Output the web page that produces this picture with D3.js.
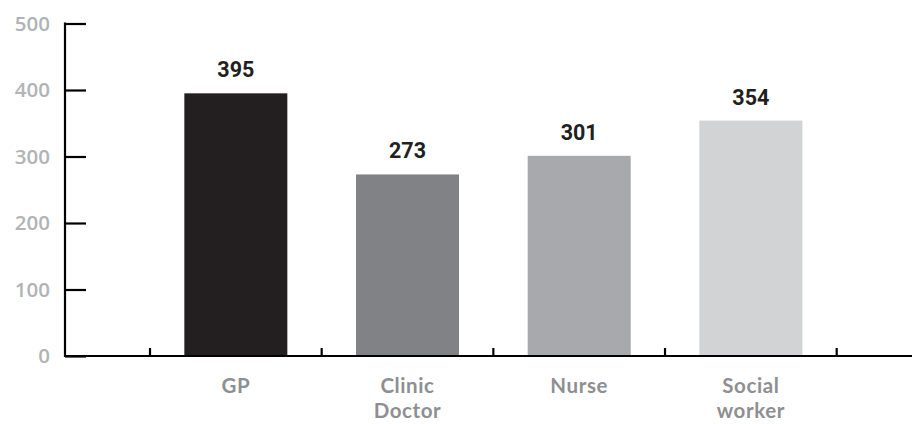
<!DOCTYPE html>
<html>
<head>
<meta charset="utf-8">
<script src="https://cdn.jsdelivr.net/npm/d3@7"></script>
<style>
  html, body { margin: 0; padding: 0; background: #fff; }
  svg { display: block; }
</style>
</head>
<body>
<svg id="chart" width="912" height="424"></svg>
<script>
// Number of professionals by role
const categories = ["GP", "Clinic Doctor", "Nurse", "Social worker"];
const labelLines = [["GP"], ["Clinic", "Doctor"], ["Nurse"], ["Social", "worker"]];
const values = [395, 273, 301, 354];
const barColors = ["#231f20", "#808285", "#a7a9ac", "#d1d3d4"];
const yTicks = [0, 100, 200, 300, 400, 500];

const svg = d3.select("#chart");

const y = d3.scaleLinear().domain([0, 500]).range([356, 23.5]);
const x = d3.scaleBand()
  .domain(categories)
  .range([150, 836.7])
  .paddingInner(0.4)
  .paddingOuter(0.2);

const axisX = 65;
const baseY = y(0);

// Bars
svg.append("g").selectAll("rect")
  .data(categories)
  .join("rect")
  .attr("x", d => x(d))
  .attr("width", x.bandwidth())
  .attr("y", (d, i) => y(values[i]))
  .attr("height", (d, i) => baseY - y(values[i]))
  .attr("fill", (d, i) => barColors[i]);

// Value labels
svg.append("g").selectAll("text")
  .data(categories)
  .join("text")
  .attr("x", d => x(d) + x.bandwidth() / 2)
  .attr("y", (d, i) => y(values[i]) - 16)
  .attr("text-anchor", "middle")
  .attr("font-family", "Roboto, 'Liberation Sans', sans-serif")
  .attr("font-weight", 700)
  .attr("font-size", 21.5)
  .attr("fill", "#231f20")
  .text((d, i) => values[i]);

// Y axis with inward ticks
const yAxis = d3.axisLeft(y)
  .tickValues(yTicks)
  .tickSize(-21)
  .tickPadding(15);
const gy = svg.append("g")
  .attr("transform", `translate(${axisX},0)`)
  .call(yAxis);
gy.select(".domain").remove();
gy.selectAll(".tick line").attr("stroke", "#000").attr("stroke-width", 2.2);
gy.selectAll(".tick text")
  .attr("font-family", "'Open Sans', sans-serif")
  .attr("font-weight", 600)
  .attr("font-size", 20.5)
  .attr("fill", "#b1b3b6");
svg.append("line")
  .attr("x1", axisX).attr("x2", axisX)
  .attr("y1", y(500) - 1).attr("y2", baseY + 1)
  .attr("stroke", "#000").attr("stroke-width", 2.2);

// X baseline and band separators
svg.append("line")
  .attr("x1", axisX - 1).attr("x2", 912)
  .attr("y1", baseY).attr("y2", baseY)
  .attr("stroke", "#000").attr("stroke-width", 2.2);

const step = x.step();
const separators = categories.map(d => x(d) - x.paddingInner() * step / 2)
  .concat([x(categories[categories.length - 1]) + x.bandwidth() + x.paddingInner() * step / 2]);
svg.append("g").selectAll("line")
  .data(separators)
  .join("line")
  .attr("x1", d => d).attr("x2", d => d)
  .attr("y1", baseY).attr("y2", baseY - 8)
  .attr("stroke", "#000").attr("stroke-width", 2.2);

// Category labels
const catG = svg.append("g").selectAll("text")
  .data(categories)
  .join("text")
  .attr("x", d => x(d) + x.bandwidth() / 2)
  .attr("y", 393)
  .attr("text-anchor", "middle")
  .attr("font-family", "Lato, 'Open Sans', sans-serif")
  .attr("font-weight", 700)
  .attr("font-size", 20.5)
  .attr("letter-spacing", 0.6)
  .attr("fill", "#8d8f92");
catG.each(function(d, i) {
  const t = d3.select(this);
  labelLines[i].forEach((ln, j) => {
    t.append("tspan")
      .attr("x", x(d) + x.bandwidth() / 2)
      .attr("dy", j === 0 ? 0 : 25)
      .text(ln);
  });
});
</script>
</body>
</html>
